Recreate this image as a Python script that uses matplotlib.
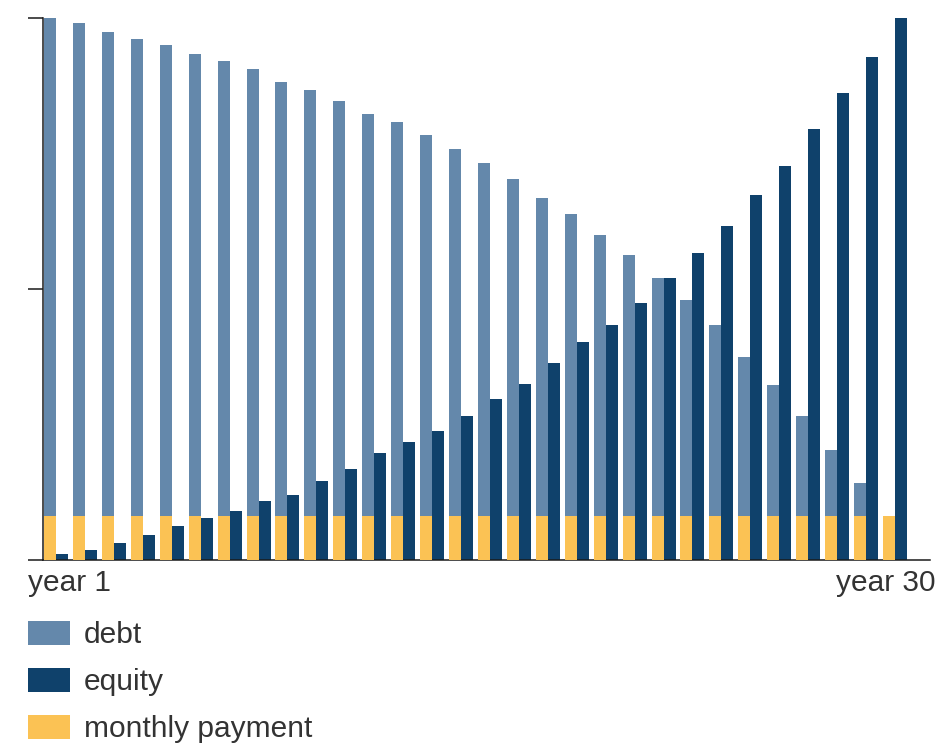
import matplotlib.pyplot as plt
import numpy as np

years = np.arange(30)

debt = [100.0, 98.9, 97.3, 96.0, 95.0, 93.3, 91.9, 90.5, 88.2, 86.7,
        84.6, 82.3, 80.7, 78.3, 75.7, 73.1, 70.2, 66.7, 63.8, 60.0,
        56.3, 51.9, 47.9, 43.3, 37.4, 32.3, 26.5, 20.3, 14.2, 0.0]
equity = [1.1, 1.8, 3.1, 4.6, 6.2, 7.7, 9.1, 10.8, 11.9, 14.6,
          16.7, 19.8, 21.7, 23.7, 26.5, 29.6, 32.4, 36.3, 40.2, 43.3,
          47.4, 51.9, 56.6, 61.5, 67.3, 72.6, 79.4, 86.1, 92.7, 100.0]
payment = [8.2] * 30

DEBT_COLOR = "#6488ab"
EQUITY_COLOR = "#0f416b"
PAYMENT_COLOR = "#fbc254"
TEXT_COLOR = "#333333"

plt.rcParams["font.family"] = ["Liberation Sans", "DejaVu Sans"]

W, H = 940, 748
fig = plt.figure(figsize=(W / 100, H / 100), dpi=100)
ax = fig.add_axes([43 / W, (H - 560) / H, (930 - 43) / W, (560 - 17.5) / H])

w = 0.415
b_debt = ax.bar(years - w, debt, width=w, align="edge", color=DEBT_COLOR, label="debt", zorder=2)
b_eq = ax.bar(years, equity, width=w, align="edge", color=EQUITY_COLOR, label="equity", zorder=2)
b_pay = ax.bar(years - w, payment, width=w, align="edge", color=PAYMENT_COLOR,
               label="monthly payment", zorder=3)

ax.set_xlim(-0.449, 30.21)
ax.set_ylim(0, 100)

for side in ("top", "right"):
    ax.spines[side].set_visible(False)
for side in ("left", "bottom"):
    ax.spines[side].set_linewidth(1.1)
    ax.spines[side].set_color("#1a1a1a")

ax.set_xticks([])
ax.set_yticks([0, 50, 100])
ax.set_yticklabels([])
ax.tick_params(axis="y", length=10.8, width=1.1, color="#1a1a1a")

ax.text(-15 / 887, -31 / 542.5, "year 1", transform=ax.transAxes, ha="left",
        va="baseline", fontsize=21.5, color=TEXT_COLOR)
ax.text(1 + 5 / 887, -31 / 542.5, "year 30", transform=ax.transAxes, ha="right",
        va="baseline", fontsize=21.5, color=TEXT_COLOR)

fig.legend(handles=[b_debt, b_eq, b_pay], loc="upper left",
           bbox_to_anchor=(28 / W, (H - 621) / H), frameon=False,
           fontsize=21.5, labelcolor=TEXT_COLOR, handlelength=1.4,
           handleheight=0.87, handletextpad=0.47, labelspacing=0.62,
           borderpad=0, borderaxespad=0)

fig.savefig("out.png", dpi=100)
